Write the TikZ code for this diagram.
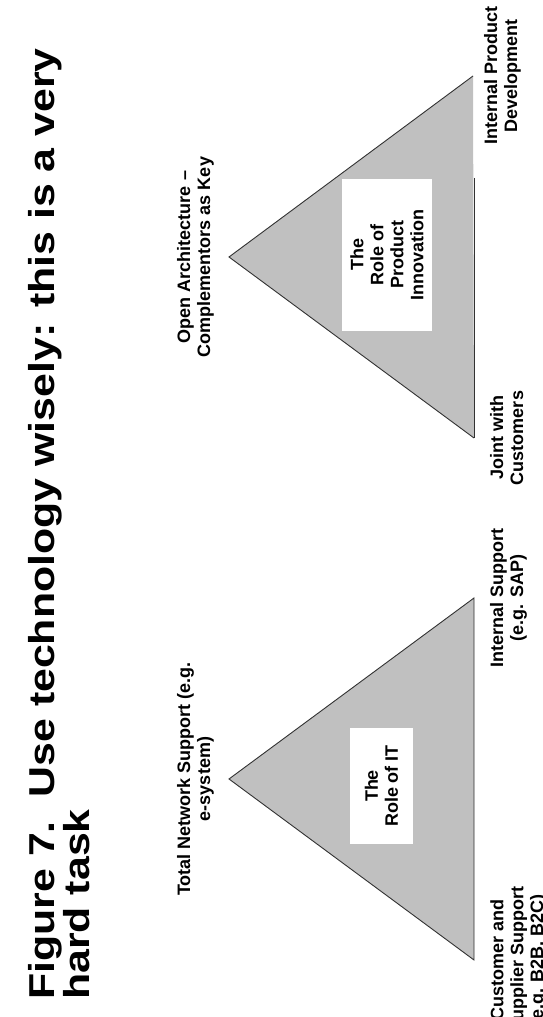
\documentclass[tikz,border=0pt]{standalone}
\usepackage{fontspec}
\setmainfont{Liberation Sans}
\usepackage{xcolor}
\usetikzlibrary{positioning}

\definecolor{wedgegray}{RGB}{192,192,192}
\definecolor{edgegray}{RGB}{50,50,50}

\begin{document}
\begin{tikzpicture}[
  x=1pt, y=1pt,
  wedge/.style={fill=wedgegray},
  edge/.style={draw=edgegray, line width=0.9pt, line join=miter},
  rolebox/.style={fill=white, rotate=90, align=center, inner sep=0pt,
                  font=\fontsize{18}{20}\bfseries\selectfont},
  corner/.style={rotate=90, align=center, anchor=north, inner sep=0pt,
                 font=\fontsize{18}{20}\bfseries\selectfont},
  headline/.style={rotate=90, xscale=1.19, align=left, anchor=north west, inner sep=0pt,
                   font=\fontsize{36}{33}\bfseries\selectfont}
]
  \useasboundingbox (0,0) rectangle (543,1017);

  % corners of the two triangles
  \coordinate (A1) at (229,238);
  \coordinate (B1) at (474,419);
  \coordinate (C1) at (474,57);
  \coordinate (A2) at (229,760);
  \coordinate (B2) at (473,941);
  \coordinate (C2) at (474,579);
  \coordinate (M2) at (474,839);

  \fill[wedge] (A1) -- (B1) -- (C1) -- cycle;
  \draw[edge] (B1) -- (A1) -- (C1) -- cycle;
  \fill[wedge] (A2) -- (B2) -- (C2) -- cycle;
  \draw[edge] (C2) -- (A2) -- (B2);
  \draw[edge] (M2) -- (C2);

  \node[rolebox, minimum width=116pt, minimum height=63pt] (roleIT) at (381.5,231) {The\\Role of IT};
  \node[rolebox, minimum width=152pt, minimum height=90pt] (rolePI) at (387,762) {The\\Role of\\Product\\Innovation};

  \node[corner] (lblA1) at ([xshift=-52]A1) {Total Network Support (e.g.\\e-system)};
  \node[corner] (lblB1) at ([xshift=16]B1) {Internal Support\\(e.g. SAP)};
  \node[corner] (lblC1) at ([xshift=16]C1) {Customer and\\Supplier Support\\(e.g. B2B, B2C)};
  \node[corner] (lblA2) at ([xshift=-52]A2) {Open Architecture --\\Complementors as Key};
  \node[corner] (lblB2) at ([xshift=11]B2) {Internal Product\\Development};
  \node[corner] (lblC2) at ([xshift=16]C2) {Joint with\\Customers};

  \node[headline] (title) at (28,17) {Figure 7.\ \ Use technology wisely: this is a very\\hard task};
\end{tikzpicture}
\end{document}
